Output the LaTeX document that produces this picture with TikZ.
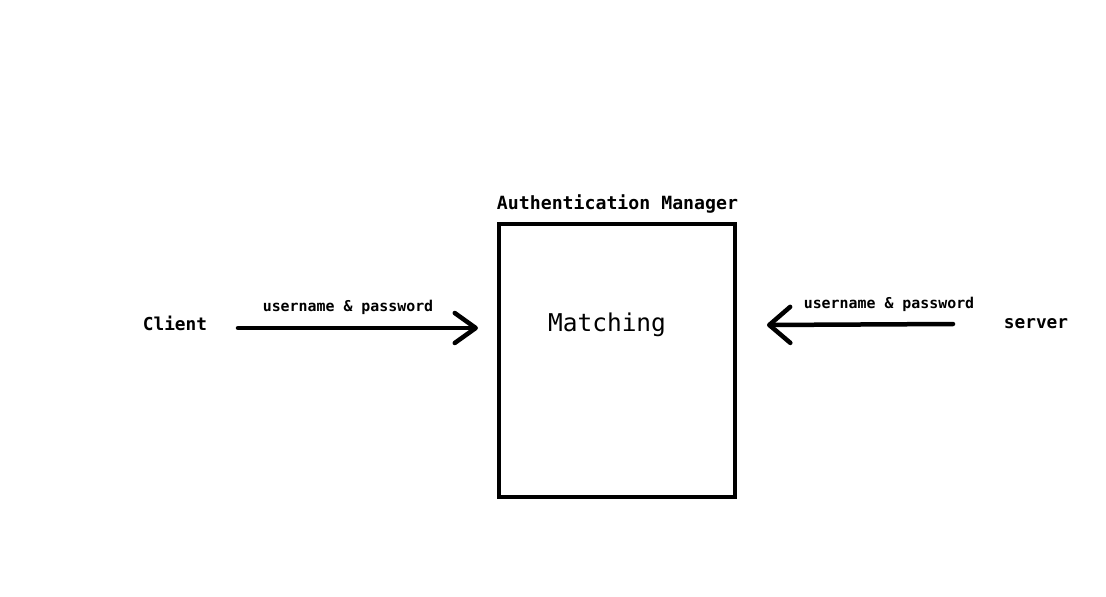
\documentclass[tikz,border=0pt]{standalone}
\usepackage{fontspec}
\setmonofont{DejaVu Sans Mono}
\usetikzlibrary{arrows.meta}
\tikzset{
  lbl/.style={font=\ttfamily\bfseries\fontsize{17.8}{20}\selectfont, inner sep=0pt},
  small/.style={font=\ttfamily\bfseries\fontsize{14.9}{17}\selectfont, inner sep=0pt},
  boxs/.style={draw, line width=4.5pt, minimum width=236pt, minimum height=273pt, inner sep=0pt},
  arr/.style={line width=4.5pt, line cap=round, -{Straight Barb[length=21pt, width=30pt, line cap=round, line join=round]}}
}
\begin{document}
\begin{tikzpicture}[x=1pt,y=-1pt]
\useasboundingbox[fill=white] (0,0) rectangle (1106,597);
\node[boxs] (box) at (617,360.5) {};
\node[font=\ttfamily\fontsize{24.5}{28}\selectfont, inner sep=0pt] (match) at (607,325) {Matching};
\node[lbl, font=\ttfamily\bfseries\fontsize{18.2}{20}\selectfont] (title) at (617.5,204) {Authentication Manager};
\node[lbl] (client) at (175,323) {Client};
\node[lbl] (server) at (1036,324) {server};
\coordinate (ls) at (238,328);
\coordinate (le) at (478,328);
\coordinate (rs) at (953,324);
\coordinate (re) at (767,325);
\draw[arr] (ls) -- (le);
\draw[arr, -{Straight Barb[length=21pt, width=36pt, line cap=round, line join=round]}] (rs) -- (re);
\node[small] (lab1) at (348,307) {username \& password};
\node[small] (lab2) at (889,304) {username \& password};
\end{tikzpicture}
\end{document}
